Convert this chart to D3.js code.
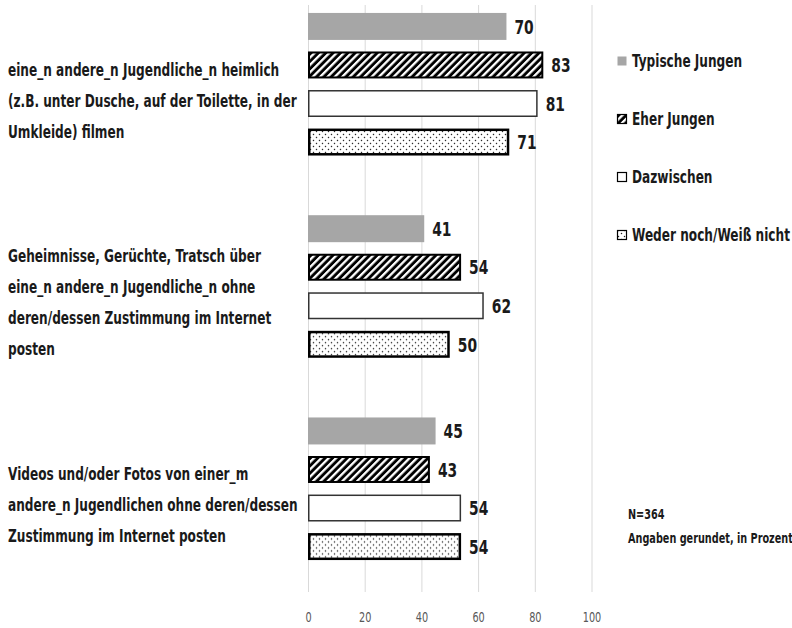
<!DOCTYPE html>
<html>
<head>
<meta charset="utf-8">
<script src="https://cdn.jsdelivr.net/npm/d3@7"></script>
<style>
  body { margin: 0; background: #fff; }
  svg text { font-family: "DejaVu Sans Condensed", "Liberation Sans Narrow", sans-serif; }
</style>
</head>
<body>
<svg width="792" height="628"></svg>
<script>
// categories (label lines) and series
var categories = [
  ["eine_n andere_n Jugendliche_n heimlich", "(z.B. unter Dusche, auf der Toilette, in der", "Umkleide) filmen"],
  ["Geheimnisse, Gerüchte, Tratsch über", "eine_n andere_n Jugendliche_n ohne", "deren/dessen Zustimmung im Internet", "posten"],
  ["Videos und/oder Fotos von einer_m", "andere_n Jugendlichen ohne deren/dessen", "Zustimmung im Internet posten"]
];
var seriesNames = ["Typische Jungen", "Eher Jungen", "Dazwischen", "Weder noch/Weiß nicht"];
var typischeJungen = [70, 41, 45];
var eherJungen = [83, 54, 43];
var dazwischen = [81, 62, 54];
var wederNoch = [71, 50, 54];
var tickValues = [0, 20, 40, 60, 80, 100];
var notes = ["N=364", "Angaben gerundet, in Prozent"];

var seriesValues = [typischeJungen, eherJungen, dazwischen, wederNoch];

var svg = d3.select("svg");
var SQ = 0.77; // horizontal squeeze so the text looks like the narrow original font

// patterns for the bars
var defs = svg.append("defs");
var hatch = defs.append("pattern")
    .attr("id", "hatch")
    .attr("patternUnits", "userSpaceOnUse")
    .attr("width", 5.2).attr("height", 5.2)
    .attr("patternTransform", "rotate(45)");
hatch.append("rect").attr("width", 5.2).attr("height", 5.2).attr("fill", "#000");
hatch.append("rect").attr("x", 0).attr("width", 2.3).attr("height", 5.2).attr("fill", "#fff");

var dots = defs.append("pattern")
    .attr("id", "dots")
    .attr("patternUnits", "userSpaceOnUse")
    .attr("width", 6).attr("height", 6);
dots.append("rect").attr("width", 6).attr("height", 6).attr("fill", "#fff");
dots.append("circle").attr("cx", 1.5).attr("cy", 1.5).attr("r", 0.75).attr("fill", "#222");
dots.append("circle").attr("cx", 4.5).attr("cy", 4.5).attr("r", 0.75).attr("fill", "#222");

var styles = [
  { fill: "#a6a6a6", stroke: "none", sw: 0 },
  { fill: "url(#hatch)", stroke: "#000", sw: 2 },
  { fill: "#fff", stroke: "#333", sw: 1.5 },
  { fill: "url(#dots)", stroke: "#000", sw: 2.5 }
];

var x = d3.scaleLinear().domain([0, 100]).range([308, 591.5]);

var y0 = d3.scaleBand()
    .domain(d3.range(categories.length))
    .range([0, 573])
    .paddingInner(0.295)
    .paddingOuter(0.064);

var y1 = d3.scaleBand()
    .domain(d3.range(seriesNames.length))
    .range([0, y0.bandwidth()])
    .paddingInner(0.3);

// gridlines + tick labels
var axis = svg.append("g")
    .attr("transform", "translate(0,592)")
    .call(d3.axisBottom(x).tickValues(tickValues).tickSize(-587).tickPadding(20));
axis.select(".domain").remove();
axis.selectAll(".tick line").attr("stroke", "#d9d9d9").attr("stroke-width", 1);
axis.selectAll(".tick text")
    .attr("fill", "#595959")
    .attr("transform", "scale(" + SQ + ",1)")
    .style("font-size", "14px")
    .style("font-family", "'DejaVu Sans Condensed', sans-serif");

// bars
var groups = svg.selectAll(".group")
    .data(categories)
    .enter().append("g")
      .attr("class", "group")
      .attr("transform", function(d, i) { return "translate(0," + y0(i) + ")"; });

groups.each(function(cat, ci) {
  var g = d3.select(this);
  seriesValues.forEach(function(vals, si) {
    var st = styles[si];
    var inset = st.sw / 2;
    g.append("rect")
        .attr("x", x(0) + inset)
        .attr("y", y1(si) + inset)
        .attr("width", x(vals[ci]) - x(0) - 2 * inset)
        .attr("height", y1.bandwidth() - 2 * inset)
        .attr("fill", st.fill)
        .attr("stroke", st.stroke)
        .attr("stroke-width", st.sw);
    g.append("g")
        .attr("transform", "translate(" + (x(vals[ci]) + 8) + "," + (y1(si) + y1.bandwidth() / 2) + ") scale(" + SQ + ",1)")
      .append("text")
        .attr("dy", "0.36em")
        .attr("fill", "#1a1a1a")
        .style("font-size", "20px")
        .style("font-weight", "bold")
        .text(vals[ci]);
  });
});

// category labels
var lineH = 31;
groups.append("g")
    .attr("transform", "translate(8,0) scale(" + SQ + ",1)")
  .append("text")
    .attr("fill", "#1a1a1a")
    .style("font-size", "17.5px")
    .style("font-weight", "bold")
    .each(function(lines) {
      var t = d3.select(this);
      var mid = y0.bandwidth() / 2 + 16;
      lines.forEach(function(l, i) {
        t.append("tspan")
            .attr("x", 0)
            .attr("y", mid + (i - (lines.length - 1) / 2) * lineH)
            .attr("dy", "0.36em")
            .text(l);
      });
    });

// legend
var legend = svg.selectAll(".legend")
    .data(seriesNames)
    .enter().append("g")
      .attr("class", "legend")
      .attr("transform", function(d, i) { return "translate(617," + (61 + i * 58) + ")"; });

legend.append("rect")
    .attr("x", 0.5).attr("y", -4.5)
    .attr("width", 9).attr("height", 9)
    .attr("fill", function(d, i) { return styles[i].fill; })
    .attr("stroke", function(d, i) { return i === 0 ? "none" : "#000"; })
    .attr("stroke-width", 1.2);

legend.append("g")
    .attr("transform", "translate(15,0) scale(" + SQ + ",1)")
  .append("text")
    .attr("dy", "0.36em")
    .attr("fill", "#1a1a1a")
    .style("font-size", "17.5px")
    .style("font-weight", "bold")
    .text(function(d) { return d; });

// notes
svg.selectAll(".note")
    .data(notes)
    .enter().append("g")
      .attr("class", "note")
      .attr("transform", function(d, i) { return "translate(628," + (514 + i * 24) + ") scale(" + SQ + ",1)"; })
    .append("text")
      .attr("dy", "0.36em")
      .attr("fill", "#1a1a1a")
      .style("font-size", "14px")
      .style("font-weight", "bold")
      .text(function(d) { return d; });
</script>
</body>
</html>
